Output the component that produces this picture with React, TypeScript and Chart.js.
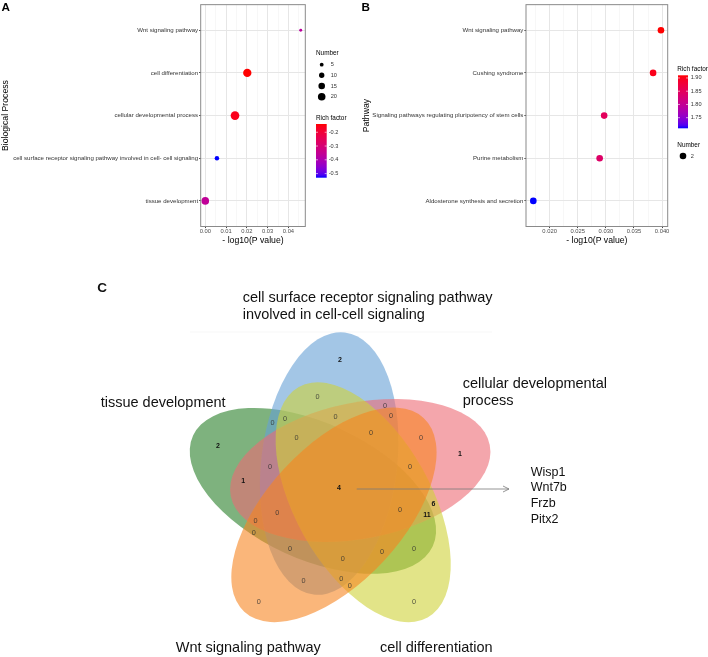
import React, { useEffect, useRef } from 'react';
import { Chart, registerables } from 'chart.js';

Chart.register(...registerables);

const FONT = '"Liberation Sans", Arial, Helvetica, sans-serif';

// ===== Panel A : GO biological process =====
const A_TERMS = [
  'Wnt signaling pathway',
  'cell differentiation',
  'cellular developmental process',
  'cell surface receptor signaling pathway involved in cell- cell signaling',
  'tissue development',
];
const A_LOG_P = [0.0459, 0.0202, 0.0143, 0.0056, 0.0];
const A_NUMBER = [3, 24, 26, 7, 20];
const A_RICH = [-0.37, -0.14, -0.16, -0.53, -0.36];
const A_X_TICKS = [0, 0.01, 0.02, 0.03, 0.04];
const A_X_MINOR = [0.005, 0.015, 0.025, 0.035, 0.045];
const A_NUMBER_KEYS = [5, 10, 15, 20];
const A_RICH_KEYS = [-0.2, -0.3, -0.4, -0.5];

// ===== Panel B : KEGG pathway =====
const B_TERMS = [
  'Wnt signaling pathway',
  'Cushing syndrome',
  'Signaling pathways regulating pluripotency of stem cells',
  'Purine metabolism',
  'Aldosterone synthesis and secretion',
];
const B_LOG_P = [0.0398, 0.0384, 0.0297, 0.0289, 0.0171];
const B_NUMBER = [2, 2, 2, 2, 2];
const B_RICH = [1.91, 1.9, 1.85, 1.84, 1.71];
const B_X_TICKS = [0.02, 0.025, 0.03, 0.035, 0.04];
const B_X_MINOR = [0.0175, 0.0225, 0.0275, 0.0325, 0.0375];
const B_NUMBER_KEYS = [2];
const B_RICH_KEYS = [1.9, 1.85, 1.8, 1.75];

// ===== Panel C : five-set Venn =====
const VENN_SETS = [
  'cell surface receptor signaling pathway involved in cell-cell signaling',
  'cellular developmental process',
  'cell differentiation',
  'Wnt signaling pathway',
  'tissue development',
];
const VENN_COUNTS = [2, 0, 0, 0, 0, 0, 0, 0, 0, 0, 1, 2, 0, 0, 1, 4, 6, 11, 0, 0, 0, 0, 0, 0, 0, 0, 0, 0, 0, 0, 0];
const SHARED_GENES = ['Wisp1', 'Wnt7b', 'Frzb', 'Pitx2'];

// ---------- layout (positions / styles) ----------
const VENN_LABEL_XY: [number, number][] = [
  [340, 360], [317.5, 397], [385, 406], [391, 416], [272.5, 423], [285, 419], [335.5, 417],
  [296.5, 438.3], [371, 433.3], [421, 438.3], [460, 454], [218, 445.7], [270, 466.7], [410, 466.7],
  [243.3, 481.5], [339, 488.3], [433.5, 504], [427, 515.3], [400, 510], [277.2, 513.2],
  [255.5, 521], [253.8, 533], [290, 549], [342.8, 559.2], [382, 552], [414, 549],
  [303.5, 580.7], [341.3, 579], [349.8, 585.7], [258.8, 602.2], [414, 602.2],
];
const VENN_TITLE_POS = [
  { x: 242.7, y: 298.3, breakAt: 5 },
  { x: 462.7, y: 384.3, breakAt: 2 },
  { x: 380, y: 648.3, breakAt: 0 },
  { x: 175.7, y: 647.7, breakAt: 0 },
  { x: 100.7, y: 403.3, breakAt: 0 },
];
const VENN_COLORS = ['rgb(102,160,213)', 'rgb(237,107,117)', 'rgb(207,210,57)', 'rgb(247,133,33)', 'rgb(40,127,40)'];
const VENN_DRAW_ORDER = [4, 0, 1, 2, 3];
const VENN_O = { x: 339.9, y: 488.4 };
const VENN_SHAPE = { centerR: 27.1, centerAngle: 113.3, axisAngle: 83.2, semiMajor: 132, semiMinor: 68, alpha: 0.6 };

// ---------- colour scale (ggplot-like Lab gradient blue -> red) ----------
type RGB = [number, number, number];
const LOW_COL: RGB = [0, 0, 255];
const HIGH_COL: RGB = [255, 0, 0];
const toLin = (c: number) => { c /= 255; return c <= 0.04045 ? c / 12.92 : Math.pow((c + 0.055) / 1.055, 2.4); };
const toSrgb = (c: number) => { const v = c <= 0.0031308 ? 12.92 * c : 1.055 * Math.pow(c, 1 / 2.4) - 0.055; return Math.round(Math.max(0, Math.min(1, v)) * 255); };
function rgb2lab(c: RGB) {
  const R = toLin(c[0]), G = toLin(c[1]), B = toLin(c[2]);
  const X = (0.4124 * R + 0.3576 * G + 0.1805 * B) / 0.95047;
  const Y = 0.2126 * R + 0.7152 * G + 0.0722 * B;
  const Z = (0.0193 * R + 0.1192 * G + 0.9505 * B) / 1.08883;
  const f = (t: number) => (t > 0.008856 ? Math.cbrt(t) : 7.787 * t + 16 / 116);
  const fx = f(X), fy = f(Y), fz = f(Z);
  return [116 * fy - 16, 500 * (fx - fy), 200 * (fy - fz)];
}
function lab2rgb(l: number[]): RGB {
  const fy = (l[0] + 16) / 116, fx = fy + l[1] / 500, fz = fy - l[2] / 200;
  const inv = (t: number) => (t * t * t > 0.008856 ? t * t * t : (t - 16 / 116) / 7.787);
  const X = 0.95047 * inv(fx), Y = inv(fy), Z = 1.08883 * inv(fz);
  const R = 3.2406 * X - 1.5372 * Y - 0.4986 * Z;
  const G = -0.9689 * X + 1.8758 * Y + 0.0415 * Z;
  const B = 0.0557 * X - 0.204 * Y + 1.057 * Z;
  return [toSrgb(R), toSrgb(G), toSrgb(B)];
}
const LAB_LOW = rgb2lab(LOW_COL), LAB_HIGH = rgb2lab(HIGH_COL);
function richColor(v: number, lo: number, hi: number) {
  const t = Math.max(0, Math.min(1, (v - lo) / (hi - lo)));
  const c = lab2rgb(LAB_LOW.map((a, i) => a + (LAB_HIGH[i] - a) * t));
  return `rgb(${c[0]},${c[1]},${c[2]})`;
}

const near = (v: number, list: number[]) => list.some((b) => Math.abs(v - b) < 1e-9);
const font = (size: number, weight = 'normal') => `${weight} ${size}px ${FONT}`;

function drawColorbar(ctx: CanvasRenderingContext2D, x: number, y: number, w: number, h: number,
  lo: number, hi: number, keys: number[], fmt: (v: number) => string, labelX: number) {
  const g = ctx.createLinearGradient(0, y, 0, y + h);
  for (let i = 0; i <= 20; i++) g.addColorStop(i / 20, richColor(hi - (i / 20) * (hi - lo), lo, hi));
  ctx.fillStyle = g;
  ctx.fillRect(x, y, w, h);
  ctx.strokeStyle = '#fff';
  ctx.lineWidth = 0.6;
  ctx.fillStyle = '#333';
  ctx.font = font(5.6);
  ctx.textAlign = 'left';
  ctx.textBaseline = 'middle';
  keys.forEach((k) => {
    const ky = y + ((hi - k) / (hi - lo)) * h;
    ctx.beginPath();
    ctx.moveTo(x, ky); ctx.lineTo(x + 2, ky);
    ctx.moveTo(x + w - 2, ky); ctx.lineTo(x + w, ky);
    ctx.stroke();
    ctx.fillText(fmt(k), labelX, ky);
  });
}

interface DotPanel {
  terms: string[]; logP: number[]; number: number[]; rich: number[];
  ticks: number[]; minor: number[]; xMin: number; xMax: number; decimals: number;
  yTitle: string; axisWidth: number; yTitlePad: number; padRight: number;
  radius: (n: number) => number;
  extras: (ctx: CanvasRenderingContext2D, lo: number, hi: number) => void;
}

function dotConfig(p: DotPanel): any {
  const lo = Math.min(...p.rich), hi = Math.max(...p.rich);
  const all = [...p.ticks, ...p.minor].sort((a, b) => a - b);
  return {
    type: 'scatter',
    data: {
      datasets: [{
        data: p.logP.map((x, i) => ({ x, y: i + 1 })),
        pointRadius: p.number.map(p.radius),
        pointHoverRadius: p.number.map(p.radius),
        pointBackgroundColor: p.rich.map((v) => richColor(v, lo, hi)),
        pointBorderWidth: 0,
        pointBorderColor: 'rgba(0,0,0,0)',
      }],
    },
    options: {
      animation: false,
      responsive: false,
      events: [],
      layout: { padding: { left: 0, top: 1, right: p.padRight, bottom: 4.3 } },
      plugins: { legend: { display: false }, tooltip: { enabled: false } },
      scales: {
        x: {
          type: 'linear', min: p.xMin, max: p.xMax,
          afterBuildTicks: (s: any) => { s.ticks = all.map((value) => ({ value })); },
          afterFit: (s: any) => { s.height = 19.2; },
          border: { display: false },
          grid: {
            color: (c: any) => (c.tick && near(c.tick.value, p.ticks) ? '#e6e6e6' : '#f2f2f2'),
            lineWidth: (c: any) => (c.tick && near(c.tick.value, p.ticks) ? 1 : 0.6),
            tickColor: (c: any) => (c.tick && near(c.tick.value, p.ticks) ? '#444' : 'rgba(0,0,0,0)'),
            tickLength: 1.6,
          },
          ticks: {
            autoSkip: false, maxRotation: 0, minRotation: 0, padding: 0.3,
            color: '#4d4d4d', font: { family: FONT, size: 5.8 },
            callback: (v: number) => (near(v, p.ticks) ? v.toFixed(p.decimals) : ''),
          },
          title: { display: true, text: '- log10(P value)', color: '#000', font: { family: FONT, size: 8.7 }, padding: 0 },
        },
        y: {
          type: 'linear', reverse: true, min: 0.4, max: 5.6,
          afterBuildTicks: (s: any) => { s.ticks = p.terms.map((_, i) => ({ value: i + 1 })); },
          afterFit: (s: any) => { s.width = p.axisWidth; },
          border: { display: false },
          grid: { color: '#e6e6e6', lineWidth: 1, tickColor: '#444', tickLength: 1.6 },
          ticks: {
            autoSkip: false, padding: 1, color: '#333', font: { family: FONT, size: 6.1 },
            callback: (v: number) => p.terms[Math.round(v) - 1],
          },
          title: { display: true, text: p.yTitle, color: '#000', font: { family: FONT, size: 8.7 }, padding: { top: p.yTitlePad, bottom: 0 } },
        },
      },
    },
    plugins: [{
      id: 'dotExtras',
      afterDraw(chart: any) {
        const { ctx, chartArea: a } = chart;
        ctx.save();
        ctx.strokeStyle = '#8a8a8a';
        ctx.lineWidth = 1;
        ctx.strokeRect(a.left, a.top, a.right - a.left, a.bottom - a.top);
        p.extras(ctx, lo, hi);
        ctx.restore();
      },
    }],
  };
}

const radiusA = (n: number) => 0.85 * Math.sqrt(n);
const radiusB = (_n: number) => 3.3;

const panelA: DotPanel = {
  terms: A_TERMS, logP: A_LOG_P, number: A_NUMBER, rich: A_RICH,
  ticks: A_X_TICKS, minor: A_X_MINOR, xMin: -0.0022, xMax: 0.0481, decimals: 2,
  yTitle: 'Biological Process', axisWidth: 200.7, yTitlePad: 0, padRight: 44.7,
  radius: radiusA,
  extras: (ctx, lo, hi) => {
    ctx.fillStyle = '#000';
    ctx.textBaseline = 'middle';
    ctx.textAlign = 'left';
    ctx.font = font(11.7, 'bold');
    ctx.fillText('A', 1.5, 7.8);
    ctx.font = font(6.4);
    ctx.fillText('Number', 316, 53.3);
    const keyY = [64.7, 75.3, 86, 96.7];
    A_NUMBER_KEYS.forEach((n, i) => {
      ctx.fillStyle = '#000';
      ctx.beginPath();
      ctx.arc(321.7, keyY[i], radiusA(n), 0, Math.PI * 2);
      ctx.fill();
      ctx.fillStyle = '#333';
      ctx.font = font(5.6);
      ctx.fillText(String(n), 330.7, keyY[i]);
    });
    ctx.fillStyle = '#000';
    ctx.font = font(6.4);
    ctx.fillText('Rich factor', 316, 118.3);
    drawColorbar(ctx, 316, 124, 10.7, 53.7, lo, hi, A_RICH_KEYS, (v) => v.toFixed(1), 328.7);
  },
};

const panelB: DotPanel = {
  terms: B_TERMS, logP: B_LOG_P, number: B_NUMBER, rich: B_RICH,
  ticks: B_X_TICKS, minor: B_X_MINOR, xMin: 0.0158, xMax: 0.041, decimals: 3,
  yTitle: 'Pathway', axisWidth: 176, yTitlePad: 11.3, padRight: 40.3,
  radius: radiusB,
  extras: (ctx, lo, hi) => {
    ctx.fillStyle = '#000';
    ctx.textBaseline = 'middle';
    ctx.textAlign = 'left';
    ctx.font = font(11.7, 'bold');
    ctx.fillText('B', 11.5, 7.5);
    ctx.font = font(6.4);
    ctx.fillText('Rich factor', 327.3, 69.3);
    drawColorbar(ctx, 328, 75.3, 10, 53, lo, hi, B_RICH_KEYS, (v) => v.toFixed(2), 340.7);
    ctx.fillStyle = '#000';
    ctx.font = font(6.4);
    ctx.fillText('Number', 327.3, 145.3);
    B_NUMBER_KEYS.forEach((n) => {
      ctx.fillStyle = '#000';
      ctx.beginPath();
      ctx.arc(333, 156, radiusB(n), 0, Math.PI * 2);
      ctx.fill();
      ctx.fillStyle = '#333';
      ctx.font = font(5.6);
      ctx.fillText(String(n), 340.7, 156);
    });
  },
};

function vennConfig(): any {
  const deg = Math.PI / 180;
  return {
    type: 'scatter',
    data: { datasets: [{ data: VENN_LABEL_XY.map(([x, y]) => ({ x, y })), pointRadius: 0, pointHoverRadius: 0 }] },
    options: {
      animation: false,
      responsive: false,
      events: [],
      layout: { padding: 0 },
      plugins: { legend: { display: false }, tooltip: { enabled: false } },
      scales: {
        x: { type: 'linear', min: 0, max: 708, display: false },
        y: { type: 'linear', min: 262, max: 657, reverse: true, display: false },
      },
    },
    plugins: [{
      id: 'venn',
      beforeDatasetsDraw(chart: any) {
        const { ctx } = chart;
        const xs = chart.scales.x, ys = chart.scales.y;
        const px = (v: number) => xs.getPixelForValue(v);
        const py = (v: number) => ys.getPixelForValue(v);
        const kx = px(1) - px(0), ky = py(1) - py(0);
        ctx.save();
        ctx.strokeStyle = 'rgba(0,0,0,0.035)';
        ctx.lineWidth = 1;
        ctx.beginPath();
        ctx.moveTo(px(190), py(332)); ctx.lineTo(px(492), py(332));
        ctx.stroke();
        VENN_DRAW_ORDER.forEach((k) => {
          const rot = -72 * k;
          const ca = (VENN_SHAPE.centerAngle + rot) * deg;
          const cx = VENN_O.x + VENN_SHAPE.centerR * Math.cos(ca);
          const cy = VENN_O.y - VENN_SHAPE.centerR * Math.sin(ca);
          const ax = (VENN_SHAPE.axisAngle + rot) * deg;
          ctx.save();
          ctx.translate(px(cx), py(cy));
          ctx.scale(kx, ky);
          ctx.rotate(-ax);
          ctx.beginPath();
          ctx.ellipse(0, 0, VENN_SHAPE.semiMajor, VENN_SHAPE.semiMinor, 0, 0, Math.PI * 2);
          ctx.restore();
          ctx.globalAlpha = VENN_SHAPE.alpha;
          ctx.fillStyle = VENN_COLORS[k];
          ctx.fill();
          ctx.globalAlpha = 1;
        });
        ctx.restore();
      },
      afterDatasetsDraw(chart: any) {
        const { ctx } = chart;
        const xs = chart.scales.x, ys = chart.scales.y;
        const px = (v: number) => xs.getPixelForValue(v);
        const py = (v: number) => ys.getPixelForValue(v);
        ctx.save();
        ctx.textBaseline = 'middle';
        const meta = chart.getDatasetMeta(0);
        ctx.textAlign = 'center';
        VENN_COUNTS.forEach((n, i) => {
          const el = meta.data[i];
          if (n > 0) { ctx.font = font(7, 'bold'); ctx.fillStyle = '#111'; }
          else { ctx.font = font(7.3); ctx.fillStyle = 'rgba(45,45,45,0.8)'; }
          ctx.fillText(String(n), el.x, el.y);
        });
        ctx.textAlign = 'left';
        ctx.fillStyle = '#111';
        ctx.font = font(14.5);
        VENN_SETS.forEach((name, i) => {
          const pos = VENN_TITLE_POS[i];
          const words = name.split(' ');
          const lines = pos.breakAt > 0 ? [words.slice(0, pos.breakAt).join(' '), words.slice(pos.breakAt).join(' ')] : [name];
          lines.forEach((ln, j) => ctx.fillText(ln, px(pos.x), py(pos.y + j * 17)));
        });
        ctx.strokeStyle = '#7a7a7a';
        ctx.lineWidth = 0.8;
        ctx.beginPath();
        ctx.moveTo(px(356.7), py(489)); ctx.lineTo(px(509), py(489));
        ctx.moveTo(px(503), py(486)); ctx.lineTo(px(509), py(489)); ctx.lineTo(px(503), py(492));
        ctx.stroke();
        ctx.fillStyle = '#111';
        ctx.font = font(12.5);
        SHARED_GENES.forEach((g, i) => ctx.fillText(g, px(530.7), py(472.3 + i * 15.7)));
        ctx.font = font(13.5, 'bold');
        ctx.fillText('C', px(97.3), py(288.5));
        ctx.restore();
      },
    }],
  };
}

export default function App() {
  const aRef = useRef<HTMLCanvasElement>(null);
  const bRef = useRef<HTMLCanvasElement>(null);
  const cRef = useRef<HTMLCanvasElement>(null);
  useEffect(() => {
    const charts = [
      new Chart(aRef.current as HTMLCanvasElement, dotConfig(panelA)),
      new Chart(bRef.current as HTMLCanvasElement, dotConfig(panelB)),
      new Chart(cRef.current as HTMLCanvasElement, vennConfig()),
    ];
    return () => charts.forEach((c) => c.destroy());
  }, []);
  return (
    <div style={{ position: 'absolute', left: 0, top: 0, width: 708, height: 657, background: '#fff', overflow: 'hidden' }}>
      <canvas ref={aRef} width={350} height={250} style={{ position: 'absolute', left: 0, top: 0, width: 350, height: 250 }} />
      <canvas ref={bRef} width={358} height={250} style={{ position: 'absolute', left: 350, top: 0, width: 358, height: 250 }} />
      <canvas ref={cRef} width={708} height={395} style={{ position: 'absolute', left: 0, top: 262, width: 708, height: 395 }} />
    </div>
  );
}
